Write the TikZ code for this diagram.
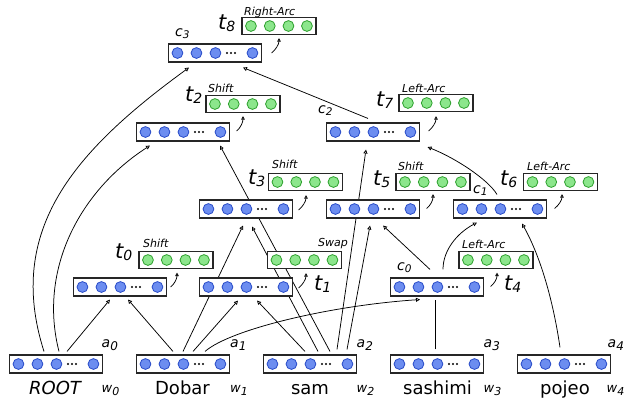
\documentclass[tikz,border=0pt]{standalone}
\usepackage{fontspec}
\setmainfont{DejaVu Sans}
\usetikzlibrary{arrows.meta}

\definecolor{bfill}{RGB}{108,141,240}
\definecolor{bline}{RGB}{40,75,200}
\definecolor{gfill}{RGB}{140,230,140}
\definecolor{gline}{RGB}{45,160,45}

\pgfdeclarelayer{background}
\pgfsetlayers{background,main}

\tikzset{
  bbox/.style={draw=black!85, line width=1.1pt, fill=white,
    minimum width=93pt, minimum height=18pt, inner sep=0pt},
  gbox/.style={draw=black!85, line width=1.1pt, fill=white,
    minimum width=74pt, minimum height=17pt, inner sep=0pt},
  bcirc/.style={draw=bline, fill=bfill, line width=0.8pt},
  gcirc/.style={draw=gline, fill=gfill, line width=0.8pt},
  conn/.style={line width=0.75pt, -{Triangle[open,length=4pt,width=4pt]}},
  plainline/.style={line width=0.75pt},
  curl/.style={line width=0.75pt, -{Triangle[open,length=3.5pt,width=3.5pt]}},
  word/.style={font=\fontsize{18}{20}\selectfont, inner sep=0pt, anchor=base},
  act/.style={font=\fontsize{11}{12}\selectfont\itshape, inner sep=0pt, anchor=base west},
  lab/.style={inner sep=0pt, anchor=base west},
}

% letter with a lowered subscript: sizes, letter, index, drop
\newcommand\symlab[5]{{\fontsize{#1}{#1}\selectfont\itshape #3\raisebox{-#5pt}{\fontsize{#2}{#2}\selectfont #4}}}

% hidden-state vector: three units, dots, one unit
\newcommand\vecblue[2]{%
  \node[bbox] (#1) at (#2) {};
  \foreach \dx in {9.5,28.5,47.5,84.5}{\draw[bcirc] ([xshift=\dx pt]#1.west) circle[radius=5.4pt];}
  \foreach \dx in {59,63,67}{\fill ([xshift=\dx pt]#1.west) circle[radius=1.15pt];}%
}
% transition output vector: four units
\newcommand\vecgreen[2]{%
  \node[gbox] (#1) at (#2) {};
  \foreach \dx in {9.5,28.3,47,65.5}{\draw[gcirc] ([xshift=\dx pt]#1.west) circle[radius=5.4pt];}%
}

\begin{document}
\begin{tikzpicture}[x=1pt,y=-1pt]
\useasboundingbox (0,0) rectangle (626,402);

% word vectors
\vecblue{w0}{56,364}
\vecblue{w1}{183,364}
\vecblue{w2}{310,364}
\vecblue{w3}{437,364}
\vecblue{w4}{564,364}

% states
\vecblue{s0}{120,287}
\vecblue{s1}{246,287}
\vecblue{c0}{437,287}
\vecblue{s3}{246,209}
\vecblue{s5}{373,209}
\vecblue{c1}{500,209}
\vecblue{s2}{183,132}
\vecblue{c2}{373,132}
\vecblue{c3}{215,53}

% transitions
\vecgreen{g0}{176,260}
\vecgreen{g1}{304.5,260}
\vecgreen{g4}{496,260}
\vecgreen{g3}{305.5,182}
\vecgreen{g5}{433,182}
\vecgreen{g6}{560.5,182}
\vecgreen{g2}{243,104}
\vecgreen{g7}{436,103}
\vecgreen{g8}{279,26}

% words
\node[word] (root) at (55,394) {\itshape ROOT};
\node[word] (dobar) at (182.5,394) {Dobar};
\node[word] (sam) at (310,394) {sam};
\node[word] (sashimi) at (437.5,394) {sashimi};
\node[word] (pojeo) at (565,394) {pojeo};

\node[lab] (lw0) at (101.5,392) {\symlab{13}{11}{w}{0}{3}};
\node[lab] (lw1) at (230,392) {\symlab{13}{11}{w}{1}{3}};
\node[lab] (lw2) at (356.5,392) {\symlab{13}{11}{w}{2}{3}};
\node[lab] (lw3) at (483.5,392) {\symlab{13}{11}{w}{3}{3}};
\node[lab] (lw4) at (606.5,392) {\symlab{13}{11}{w}{4}{3}};

\node[lab] (la0) at (101.5,347) {\symlab{14}{12}{a}{0}{3.5}};
\node[lab] (la1) at (230,347) {\symlab{14}{12}{a}{1}{3.5}};
\node[lab] (la2) at (356.5,347) {\symlab{14}{12}{a}{2}{3.5}};
\node[lab] (la3) at (483.5,347) {\symlab{14}{12}{a}{3}{3.5}};
\node[lab] (la4) at (607.5,347) {\symlab{14}{12}{a}{4}{3.5}};

% transition labels
\node[lab] (lt0) at (115,258) {\symlab{21}{14}{t}{0}{2.5}};
\node[lab] (lt1) at (314,290) {\symlab{21}{14}{t}{1}{2.5}};
\node[lab] (lt2) at (185,101) {\symlab{21}{14}{t}{2}{2.5}};
\node[lab] (lt3) at (248,184) {\symlab{21}{14}{t}{3}{2.5}};
\node[lab] (lt4) at (504,290) {\symlab{21}{14}{t}{4}{2.5}};
\node[lab] (lt5) at (373,185) {\symlab{21}{14}{t}{5}{2.5}};
\node[lab] (lt6) at (500,185) {\symlab{21}{14}{t}{6}{2.5}};
\node[lab] (lt7) at (376,106) {\symlab{21}{14}{t}{7}{2.5}};
\node[lab] (lt8) at (218,29) {\symlab{21}{14}{t}{8}{2.5}};

% composed-state labels
\node[lab] (lc0) at (397,270) {\symlab{14}{10.5}{c}{0}{2.5}};
\node[lab] (lc1) at (473,193) {\symlab{14}{10.5}{c}{1}{2.5}};
\node[lab] (lc2) at (318,113) {\symlab{14}{10.5}{c}{2}{2.5}};
\node[lab] (lc3) at (175,36) {\symlab{14}{10.5}{c}{3}{2.5}};

% actions
\node[act] (a0) at (143,247) {Shift};
\node[act] (a1) at (318,246) {Swap};
\node[act] (a2) at (208,92) {Shift};
\node[act] (a3) at (272,168) {Shift};
\node[act] (a4) at (462,248) {Left-Arc};
\node[act] (a5) at (398,170) {Shift};
\node[act] (a6) at (527,170) {Left-Arc};
\node[act] (a7) at (402,92) {Left-Arc};
\node[act] (a8) at (244,15) {Right-Arc};

\begin{pgfonlayer}{background}
% inputs to the first states
\draw[conn] ([xshift=11,yshift=3]w0.north) -- ([xshift=-10,yshift=-3]s0.south);
\draw[conn] ([xshift=-10,yshift=3]w1.north) -- ([xshift=8,yshift=-3]s0.south);
\draw[conn] ([xshift=10,yshift=3]w1.north) -- ([xshift=-8,yshift=-4]s1.south);
\draw[conn] ([xshift=-5,yshift=3]w2.north) -- ([xshift=11,yshift=-4]s1.south);
\draw[conn] ([yshift=3]w1.north) -- ([xshift=-3,yshift=-7]s3.south);
\draw[conn] ([xshift=8,yshift=3]w2.north) -- ([xshift=6,yshift=-8]s3.south);
\draw[conn] ([xshift=20,yshift=3]w2.north) -- ([xshift=37,yshift=-4]s2.south);
\draw[conn] ([xshift=3,yshift=3]w0.north) .. controls +(-21,-82) and +(-70,45) .. ([xshift=-33,yshift=-4]s2.south);
\draw[conn] ([xshift=-12,yshift=3]w0.north) .. controls +(-39,-122) and +(-114,83) .. ([xshift=-26,yshift=-5]c3.south);
\draw[conn] ([xshift=22,yshift=3]w1.north) .. controls +(25,-22) and +(-90,6) .. ([xshift=-17,yshift=-3]c0.south);
\draw[plainline] ([xshift=-2,yshift=5]w3.north) -- ([xshift=-2,yshift=-3]c0.south);
\draw[conn] ([xshift=27,yshift=5]w2.north) -- ([xshift=-7,yshift=-8]c2.south);
\draw[conn] ([xshift=37,yshift=5]w2.north) -- ([xshift=-3,yshift=-7]s5.south);
\draw[conn] ([xshift=-4,yshift=7]w4.north) .. controls +(-7,-48) and +(18,32) .. ([xshift=22,yshift=-5]c1.south);
% compositions
\draw[conn] ([xshift=-7,yshift=8]c0.north) -- ([xshift=10,yshift=-7]s5.south);
\draw[conn] ([xshift=6,yshift=8]c0.north) .. controls +(0,-20) and +(-19,10) .. ([xshift=-23,yshift=-4]c1.south);
\draw[conn] ([xshift=-3,yshift=5]c1.north) .. controls +(-9,-15) and +(28,11) .. ([xshift=7.5,yshift=-5.5]c2.south east);
\draw[conn] ([xshift=-5,yshift=4]c2.north) -- ([xshift=28,yshift=-5]c3.south);
\end{pgfonlayer}

% state to transition
\draw[curl] ([xshift=3.5]s0.east) .. controls +(4,-3) and +(0,6) .. ([xshift=1,yshift=-3.5]g0.south);
\draw[curl] ([xshift=5.5,yshift=-1]s1.east) .. controls +(4,-3) and +(0,6) .. ([xshift=1.5,yshift=-4]g1.south);
\draw[curl] ([xshift=5.5,yshift=-1]s3.east) .. controls +(4,-3) and +(0,6) .. ([xshift=0.5,yshift=-4]g3.south);
\draw[curl] ([xshift=6.5,yshift=0.5]s5.east) .. controls +(4,-3) and +(0,6) .. ([yshift=-3]g5.south);
\draw[curl] ([xshift=7.5,yshift=0.5]c1.east) .. controls +(4,-3) and +(0,6) .. ([xshift=1.5,yshift=-3]g6.south);
\draw[curl] ([xshift=6.5,yshift=0.5]c0.east) .. controls +(4,-3) and +(0,6) .. ([xshift=1,yshift=-3.5]g4.south);
\draw[curl] ([xshift=6.5,yshift=1]s2.east) .. controls +(4,-3) and +(0,6) .. ([yshift=-3]g2.south);
\draw[curl] ([xshift=8.5,yshift=1]c2.east) .. controls +(4,-3) and +(0,6) .. ([yshift=-4]g7.south);
\draw[curl] ([xshift=9.5]c3.east) .. controls +(4,-3) and +(0,6) .. ([yshift=-3]g8.south);
\end{tikzpicture}
\end{document}
